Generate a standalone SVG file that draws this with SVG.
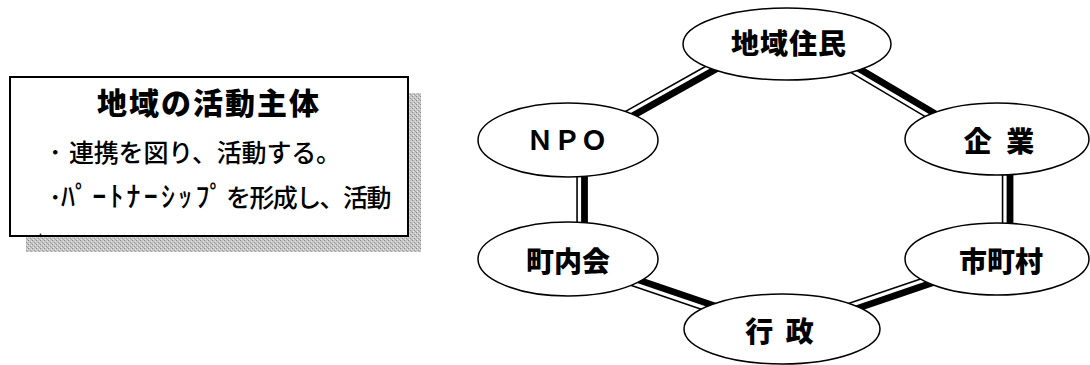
<svg xmlns="http://www.w3.org/2000/svg" width="1090" height="365" viewBox="0 0 1090 365">
<style>
  .thin { stroke: #000; stroke-width: 1.6; }
  .thick { stroke: #000; stroke-width: 6.8; }
  .node { fill: #fff; stroke: #000; stroke-width: 1.5; }
  .lbl { font-family: "Noto Sans CJK JP", "Liberation Sans", sans-serif; font-weight: 900; font-size: 28px; fill: #000; }
  .body { font-family: "Noto Sans CJK JP", "Liberation Sans", sans-serif; font-weight: 500; font-size: 25px; fill: #000; }
</style>
<defs>
  <pattern id="stipple" width="4" height="4" patternUnits="userSpaceOnUse">
    <rect width="4" height="4" fill="#c6c6c6"/>
    <rect x="0" y="0" width="1" height="1" fill="#8a8a8a"/>
    <rect x="2" y="2" width="1" height="1" fill="#959595"/>
    <rect x="1" y="3" width="1" height="1" fill="#e8e8e8"/>
    <rect x="3" y="1" width="1" height="1" fill="#e2e2e2"/>
    <rect x="3" y="3" width="1" height="1" fill="#aaaaaa"/>
  </pattern>
</defs>
<rect width="1090" height="365" fill="#fff"/>

<g id="activity-box">
  <rect x="26" y="93" width="395" height="159" fill="url(#stipple)"/>
  <rect x="10" y="77" width="398" height="159" fill="#fff" stroke="#000" stroke-width="2"/>
  <text x="97" y="114" class="lbl" style="font-size:30px" letter-spacing="2">地域の活動主体</text>
  <text y="162" class="body"><tspan x="49">･</tspan><tspan x="69" letter-spacing="-0.2">連携を図り、活動する。</tspan></text>
  <text y="207" class="body"><tspan x="49">･</tspan><tspan x="61" style="font-size:28px" letter-spacing="3.2">ﾊﾟｰﾄﾅｰｼｯﾌﾟ</tspan><tspan x="226" letter-spacing="-1.6">を形成し、活動</tspan></text>
  <text x="39" y="235" class="body" style="font-size:10px">.</text>
</g>

<g id="connectors">
  <g transform="translate(616 122.4) rotate(-29.33)"><line class="thin" x2="126.2" y1="-4.95" y2="-4.95"/><line class="thick" x2="126.2" y1="2.5" y2="2.5"/></g>
  <g transform="translate(939.2 119.1) rotate(-149.36)"><line class="thin" x2="108.3" y1="-4.95" y2="-4.95"/><line class="thick" x2="108.3" y1="2.5" y2="2.5"/></g>
  <g transform="translate(582 230) rotate(-90)"><line class="thin" x2="62" y1="-4.95" y2="-4.95"/><line class="thick" x2="62" y1="2.5" y2="2.5"/></g>
  <g transform="translate(1007.5 230) rotate(-90)"><line class="thin" x2="62" y1="-4.95" y2="-4.95"/><line class="thick" x2="62" y1="2.5" y2="2.5"/></g>
  <g transform="translate(722 311) rotate(-161.2)"><line class="thin" x2="102.5" y1="-4.95" y2="-4.95"/><line class="thick" x2="102.5" y1="2.5" y2="2.5"/></g>
  <g transform="translate(842 311) rotate(-18.8)"><line class="thin" x2="102.5" y1="-4.95" y2="-4.95"/><line class="thick" x2="102.5" y1="2.5" y2="2.5"/></g>
</g>

<g id="node-residents">
  <ellipse class="node" cx="787" cy="44" rx="104" ry="36"/>
  <text x="789" y="54" class="lbl" text-anchor="middle" letter-spacing="1">地域住民</text>
</g>
<g id="node-npo">
  <ellipse class="node" cx="568" cy="140" rx="90" ry="37"/>
  <text x="567" y="150" class="lbl" style="font-weight:700;font-size:27px" text-anchor="middle">ＮＰＯ</text>
</g>
<g id="node-company">
  <ellipse class="node" cx="997" cy="139" rx="92" ry="36"/>
  <text x="1001" y="152" class="lbl" text-anchor="middle" letter-spacing="4" xml:space="preserve">企 業</text>
</g>
<g id="node-town-assoc">
  <ellipse class="node" cx="568" cy="259" rx="90" ry="37"/>
  <text x="568" y="272" class="lbl" text-anchor="middle">町内会</text>
</g>
<g id="node-municipality">
  <ellipse class="node" cx="997" cy="259" rx="92" ry="36"/>
  <text x="1001" y="272" class="lbl" text-anchor="middle">市町村</text>
</g>
<g id="node-government">
  <ellipse class="node" cx="782" cy="329" rx="98" ry="35"/>
  <text x="781" y="342" class="lbl" text-anchor="middle" letter-spacing="3" xml:space="preserve">行 政</text>
</g>
</svg>
